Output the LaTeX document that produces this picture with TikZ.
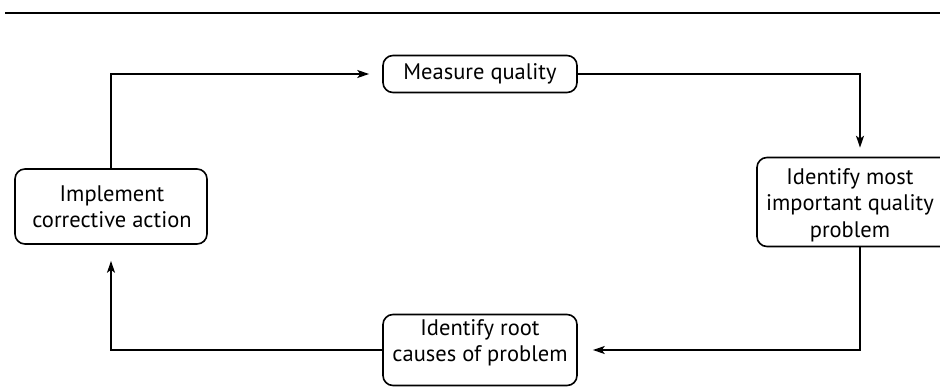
\documentclass[tikz,border=0pt]{standalone}
\usepackage{fontspec}
\setmainfont{PT Sans}
\usetikzlibrary{arrows.meta}
\begin{document}
\begin{tikzpicture}[x=1pt,y=-1pt,
  stepbox/.style={draw, line width=1.6pt, rounded corners=10pt, align=center, inner sep=0pt},
  steptext/.style={align=center, inner sep=0pt, font=\fontsize{22.5}{26.5}\selectfont},
  flow/.style={line width=1.3pt, -{Stealth[length=12pt,width=8pt,inset=3pt]}}]
\useasboundingbox (0,0) rectangle (940,388);
% header rule
\draw[line width=1.5pt] (5,13) -- (940,13);
% process steps
\node[stepbox, steptext, minimum width=194pt, minimum height=37pt] (measure) at (480,74) {Measure quality};
\node[stepbox, minimum width=206pt, minimum height=89pt] (ident) at (860,202) {};
\node[steptext] (identtext) at (850,205) {Identify most\\important quality\\problem};
\node[stepbox, minimum width=194pt, minimum height=71pt] (root) at (480,350) {};
\node[steptext] (roottext) at (480,343) {Identify root\\causes of problem};
\node[stepbox, minimum width=192pt, minimum height=75pt] (impl) at (111,206.5) {};
\node[steptext] (impltext) at (112,207) {Implement\\corrective action};
% connectors
\draw[flow, shorten >=13pt] (impl.north) |- (measure.west);
\draw[flow, shorten >=9pt] (measure.east) -| (ident.north);
\draw[flow, shorten >=15pt] (ident.south) |- (root.east);
\draw[flow, shorten >=16pt] (root.west) -| (impl.south);
\end{tikzpicture}
\end{document}
